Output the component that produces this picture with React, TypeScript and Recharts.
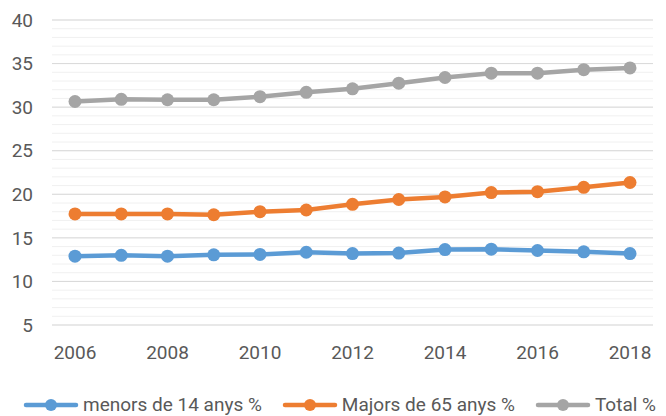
import React from 'react';
import { LineChart, Line, XAxis, YAxis, CartesianGrid, Legend, ReferenceLine } from 'recharts';

const years = ['2006', '2007', '2008', '2009', '2010', '2011', '2012', '2013', '2014', '2015', '2016', '2017', '2018'];
const menors14 = [12.9, 13.0, 12.9, 13.05, 13.1, 13.35, 13.2, 13.25, 13.65, 13.7, 13.55, 13.4, 13.2];
const majors65 = [17.75, 17.75, 17.75, 17.65, 18.0, 18.2, 18.85, 19.4, 19.7, 20.2, 20.3, 20.8, 21.35];
const total = [30.65, 30.9, 30.85, 30.85, 31.2, 31.7, 32.1, 32.75, 33.4, 33.9, 33.9, 34.3, 34.5];

const yTicks = Array.from({ length: 36 }, (_, i) => 5 + i);
const majorTicks = [5, 10, 15, 20, 25, 30, 35, 40];

const data = years.map((year, i) => ({
  year,
  menors: menors14[i],
  majors: majors65[i],
  total: total[i],
}));

const series = [
  { key: 'menors', name: 'menors de 14 anys %', color: '#5B9BD5' },
  { key: 'majors', name: 'Majors de 65 anys %', color: '#ED7D31' },
  { key: 'total', name: 'Total %', color: '#A5A5A5' },
];

const font = 'Roboto, "Open Sans", sans-serif';

function LegendContent() {
  return (
    <div style={{ display: 'flex', gap: 20, fontFamily: font, fontSize: 19, lineHeight: '20px', color: '#595959', whiteSpace: 'nowrap' }}>
      {series.map((s) => (
        <div key={s.key} style={{ display: 'flex', alignItems: 'center' }}>
          <svg width={56} height={16} style={{ marginRight: 4 }}>
            <line x1={3} y1={8} x2={53} y2={8} stroke={s.color} strokeWidth={4.5} strokeLinecap="round" />
            <circle cx={28} cy={8} r={6} fill={s.color} />
          </svg>
          <span>{s.name}</span>
        </div>
      ))}
    </div>
  );
}

export default function App() {
  return (
    <div style={{ position: 'fixed', top: 0, left: 0, width: 666, height: 416, background: '#fff', overflow: 'hidden' }}>
      <LineChart width={666} height={416} data={data} margin={{ top: 20, right: 13, bottom: 61, left: 0 }}>
        <CartesianGrid vertical={false} stroke="#F0F0F0" strokeWidth={1} />
        {majorTicks.map((t) => (
          <ReferenceLine key={t} y={t} stroke="#D9D9D9" strokeWidth={1} />
        ))}
        <XAxis
          dataKey="year"
          interval={1}
          axisLine={false}
          tickLine={false}
          tickSize={0}
          tickMargin={21}
          padding={{ left: 23, right: 23 }}
          tick={{ fill: '#595959', fontSize: 19, fontFamily: font }}
        />
        <YAxis
          domain={[5, 40]}
          ticks={yTicks}
          interval={0}
          width={52}
          axisLine={false}
          tickLine={false}
          tickSize={0}
          tickMargin={19}
          tickFormatter={(v: number) => (v % 5 === 0 ? String(v) : '')}
          tick={{ fill: '#595959', fontSize: 19, fontFamily: font }}
        />
        <Legend
          layout="horizontal"
          verticalAlign="middle"
          align="center"
          content={<LegendContent />}
          wrapperStyle={{ top: 395, left: 23, width: 800 }}
        />
        {series.map((s) => (
          <Line
            key={s.key}
            type="linear"
            dataKey={s.key}
            name={s.name}
            stroke={s.color}
            strokeWidth={4.5}
            dot={{ r: 6.5, fill: s.color, stroke: s.color, strokeWidth: 0 }}
            activeDot={false}
            isAnimationActive={false}
          />
        ))}
      </LineChart>
    </div>
  );
}
